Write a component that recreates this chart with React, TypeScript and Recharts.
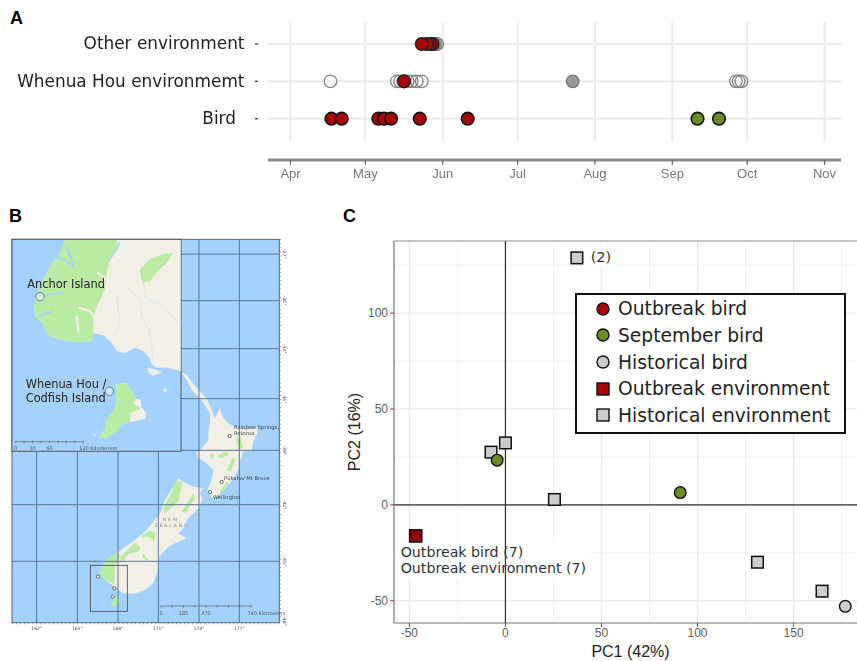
import React from 'react';
import {
  ScatterChart, Scatter, XAxis, YAxis, CartesianGrid, ReferenceLine, Legend, Label,
} from 'recharts';

// panel A: days since 1 April
const monthLabels = ['Apr', 'May', 'Jun', 'Jul', 'Aug', 'Sep', 'Oct', 'Nov'];
const monthDays = [0, 30, 61, 91, 122, 153, 183, 214];
const rowLabels = ['Bird', 'Whenua Hou environmemt', 'Other environment'];
const birdOutbreakDays = [16.4, 20.5, 35.2, 37.5, 40.3, 51.8, 71];
const birdSeptemberDays = [163.1, 171.7];
const whenuaOpenDays = [16, 42.6, 43.9, 45.2, 47, 48.6, 50.6, 52.6, 178.5, 179.6, 180.7];
const whenuaGreyDays = [113.1];
const whenuaOutbreakDays = [45.5];
const otherOpenDays = [57.6, 58.2, 58.8];
const otherOutbreakDays = [57, 55.9, 54.6, 52.6];

// panel C: PCA scores
const outbreakEnvX = [-46.7];
const outbreakEnvY = [-16.2];
const historicalEnvX = [37.2, -7.5, 0, 25.5, 131.2, 164.8];
const historicalEnvY = [128.8, 27.5, 32.3, 2.8, -29.9, -45];
const historicalBirdX = [176.9];
const historicalBirdY = [-52.9];
const septemberBirdX = [-4.3, 91];
const septemberBirdY = [23.3, 6.4];
const outbreakBirdX = [-46.7];
const outbreakBirdY = [-16.2];
const legendOrder = ['Outbreak bird', 'September bird', 'Historical bird', 'Outbreak environment', 'Historical environment'];
const pcXTicks = [-50, 0, 50, 100, 150];
const pcYTicks = [-50, 0, 50, 100];
const pcXMinor = [-25, 25, 75, 125, 175];
const pcYMinor = [-25, 25, 75, 125];

// panel B: the frame is in page pixels
const meridians = [36.7, 77.3, 118, 158.3, 199, 239.3];
const meridianLabels = ['162°', '165°', '168°', '171°', '174°', '177°'];
const parallels = [254, 300.7, 348.7, 398.7, 450.3, 504.7, 561.3];
const parallelLabels = ['-27°', '-30°', '-33°', '-36°', '-39°', '-42°', '-45°'];
const mapSitesX = [229.7, 221.7, 210, 98, 114.3, 112.7];
const mapSitesY = [436, 482, 492, 576.7, 588.3, 596.7];
const insetSitesX = [40, 109.3];
const insetSitesY = [296.7, 391.3];

const RED = '#a80505';
const GREEN = '#6b8e23';
const GREY = '#cccccc';
const SANS = '"Liberation Sans", Arial, sans-serif';
const DEJAVU = '"DejaVu Sans", Verdana, sans-serif';
const LAND = '#f2efe6';
const MAP_GREEN = '#b9eba3';
const SEA = '#a5d2fd';

const toRows = (days: number[], row: number) => days.map((day) => ({ day, row }));
const toPoints = (xs: number[], ys: number[]) => xs.map((x, i) => ({ x, y: ys[i] }));

const dot = (fill: string, stroke: string, r: number, sw: number) => (p: any) => (
  <circle cx={p.cx} cy={p.cy} r={r} fill={fill} stroke={stroke} strokeWidth={sw} />
);
const square = (fill: string, stroke: string, s: number, sw: number) => (p: any) => (
  <rect x={p.cx - s / 2} y={p.cy - s / 2} width={s} height={s} fill={fill} stroke={stroke} strokeWidth={sw} />
);

const RowTick = (p: any) => {
  const label = rowLabels[p.payload.value - 1];
  return (
    <g>
      <line x1={255} x2={258} y1={p.y} y2={p.y} stroke="#555" strokeWidth={1.5} />
      <text x={label === 'Bird' ? 236 : 244.5} y={p.y + 5.5} textAnchor="end" fontSize={16.9} fontFamily={DEJAVU} fill="#222">
        {label}
      </text>
    </g>
  );
};

const PanelA = () => (
  <div style={{ position: 'absolute', left: 0, top: 0, filter: 'blur(0.5px)' }}>
    <ScatterChart width={857} height={190} margin={{ left: 0, right: 16, top: 22, bottom: 0 }}>
      <CartesianGrid vertical={false} horizontalValues={[1, 2, 3]} stroke="#ebebeb" strokeWidth={2} />
      {monthDays.map((m) => (
        <ReferenceLine key={m} segment={[{ x: m, y: 0.376 }, { x: m, y: 3.589 }]} stroke="#ebebeb" strokeWidth={2} />
      ))}
      <XAxis
        type="number"
        dataKey="day"
        domain={[-9.02, 220.6]}
        allowDataOverflow
        ticks={monthDays}
        interval={0}
        tickFormatter={(v: number) => monthLabels[monthDays.indexOf(v)]}
        height={30}
        axisLine={{ stroke: '#8a8a8a', strokeWidth: 3 }}
        tickLine={{ stroke: '#666', strokeWidth: 1.2 }}
        tickSize={5}
        tickMargin={4}
        tick={{ fontSize: 13, fontFamily: SANS, fill: '#777' }}
      />
      <YAxis
        type="number"
        dataKey="row"
        domain={[-0.106, 3.589]}
        allowDataOverflow
        ticks={[1, 2, 3]}
        interval={0}
        width={268}
        axisLine={false}
        tickLine={false}
        tick={RowTick}
      />
      <Scatter data={toRows(whenuaOpenDays, 2)} shape={dot('none', '#858585', 6.3, 1.3)} isAnimationActive={false} />
      <Scatter data={toRows(whenuaGreyDays, 2)} shape={dot('#999', '#777', 6.3, 1.3)} isAnimationActive={false} />
      <Scatter data={toRows(whenuaOutbreakDays, 2)} shape={dot(RED, '#222', 6.3, 1.5)} isAnimationActive={false} />
      <Scatter data={toRows(otherOpenDays, 3)} shape={dot('none', '#858585', 6.3, 1.3)} isAnimationActive={false} />
      <Scatter data={toRows(otherOutbreakDays, 3)} shape={dot(RED, '#222', 6.3, 1.5)} isAnimationActive={false} />
      <Scatter data={toRows(birdOutbreakDays, 1)} shape={dot(RED, '#111', 6.3, 1.6)} isAnimationActive={false} />
      <Scatter data={toRows(birdSeptemberDays, 1)} shape={dot(GREEN, '#111', 6.3, 1.6)} isAnimationActive={false} />
    </ScatterChart>
  </div>
);

const LegendBox = (props: any) => (
  <div
    style={{
      boxSizing: 'border-box', width: 271, height: 141, border: '2px solid #111', background: '#fff',
      fontFamily: DEJAVU, fontSize: 18.7, color: '#222', paddingTop: 0,
    }}
  >
    {(props.payload || []).map((entry: any) => {
      const isSquare = entry.value.includes('environment');
      const fill = entry.value.startsWith('Outbreak') ? RED : entry.value.startsWith('September') ? GREEN : GREY;
      return (
        <div key={entry.value} style={{ height: 26.7, display: 'flex', alignItems: 'center' }}>
          <svg width={41} height={20} style={{ flex: 'none' }}>
            {isSquare
              ? <rect x={20} y={4} width={12} height={12} fill={fill} stroke="#111" strokeWidth={1.4} />
              : <circle cx={26} cy={10} r={6} fill={fill} stroke="#111" strokeWidth={1.4} />}
          </svg>
          <span style={{ whiteSpace: 'nowrap' }}>{entry.value}</span>
        </div>
      );
    })}
  </div>
);

const PanelC = () => (
  <div style={{ position: 'absolute', left: 340, top: 225 }}>
    <ScatterChart width={517} height={436} margin={{ left: 0, right: 0, top: 16, bottom: 0 }}>
      <CartesianGrid verticalValues={pcXMinor} horizontalValues={pcYMinor} stroke="#f1f1f1" strokeWidth={1} />
      <CartesianGrid verticalValues={pcXTicks} horizontalValues={pcYTicks} stroke="#ebebeb" strokeWidth={1.4} />
      <ReferenceLine x={0} stroke="#333" strokeWidth={1.2} />
      <ReferenceLine y={0} stroke="#333" strokeWidth={1.2} />
      <ReferenceLine y={137.6} stroke="#8a8a8a" strokeWidth={1.2} />
      <XAxis
        type="number"
        dataKey="x"
        domain={[-58, 183]}
        allowDataOverflow
        ticks={pcXTicks}
        interval={0}
        height={38}
        axisLine={{ stroke: '#777', strokeWidth: 1.2 }}
        tickLine={{ stroke: '#555' }}
        tickSize={4}
        tickMargin={1}
        tick={{ fontSize: 12, fontFamily: SANS, fill: '#5c5c5c' }}
      >
        <Label value="PC1 (42%)" position="insideBottom" offset={4} dx={5} fontSize={16} fontFamily={SANS} fill="#222" />
      </XAxis>
      <YAxis
        type="number"
        dataKey="y"
        domain={[-61.6, 137.6]}
        allowDataOverflow
        ticks={pcYTicks}
        interval={0}
        width={54}
        axisLine={{ stroke: '#777', strokeWidth: 1.2 }}
        tickLine={{ stroke: '#555' }}
        tickSize={4}
        tickMargin={2}
        tick={{ fontSize: 12, fontFamily: SANS, fill: '#5c5c5c' }}
      >
        <Label value="PC2 (16%)" angle={-90} position="insideLeft" offset={14} fontSize={16} fontFamily={SANS} fill="#222" style={{ textAnchor: 'middle' }} />
      </YAxis>
      <rect x={57} y={316.7} width={193} height={38.5} fill="#fff" />
      <rect x={248} y={22} width={26} height={20} fill="#fff" />
      <text x={250.7} y={36.5} fontSize={14.5} fontFamily={DEJAVU} fill="#333">(2)</text>
      <text x={60.7} y={332} fontSize={14.2} fontFamily={DEJAVU} fill="#333">Outbreak bird (7)</text>
      <text x={60.7} y={348} fontSize={14.2} fontFamily={DEJAVU} fill="#333">Outbreak environment (7)</text>
      <Scatter name="Outbreak environment" data={toPoints(outbreakEnvX, outbreakEnvY)} fill={RED} shape={square(RED, '#111', 12.2, 1.5)} isAnimationActive={false} />
      <Scatter name="Historical environment" data={toPoints(historicalEnvX, historicalEnvY)} fill={GREY} shape={square(GREY, '#111', 11.6, 1.5)} isAnimationActive={false} />
      <Scatter name="Historical bird" data={toPoints(historicalBirdX, historicalBirdY)} fill={GREY} shape={dot(GREY, '#111', 5.8, 1.4)} isAnimationActive={false} />
      <Scatter name="September bird" data={toPoints(septemberBirdX, septemberBirdY)} fill={GREEN} shape={dot(GREEN, '#111', 5.8, 1.4)} isAnimationActive={false} />
      <Scatter name="Outbreak bird" data={toPoints(outbreakBirdX, outbreakBirdY)} fill={RED} shape={dot(RED, '#111', 4.2, 1)} isAnimationActive={false} />
      <Legend
        layout="vertical"
        align="center"
        verticalAlign="middle"
        content={LegendBox}
        itemSorter={(e: any) => legendOrder.indexOf(e.value)}
        wrapperStyle={{ left: 235, top: 68.3, width: 271, height: 141 }}
      />
    </ScatterChart>
  </div>
);

// coastlines traced by hand, in crop units (3 units = 1 page px)
const northIsland = '35,8 48,12 65,35 85,60 110,85 125,120 135,145 150,115 160,145 175,160 195,170 225,180 262,170 262,190 250,215 245,240 220,245 210,270 205,300 180,340 150,370 128,385 112,360 125,330 130,300 110,280 85,265 78,250 95,235 115,210 115,185 120,160 120,130 95,90 70,65 50,30';
const southIsland = '280,25 295,35 325,50 355,55 345,70 352,85 345,110 325,130 305,150 300,170 280,190 305,205 280,215 250,230 222,260 220,300 205,340 180,360 145,372 115,370 100,360 82,345 60,330 42,310 65,270 100,245 150,210 185,180 225,130 240,90 265,50';
const southGreens = [
  '42,310 65,270 100,245 104,262 90,290 87,342 60,330',
  '170,195 195,183 212,190 208,215 192,200 172,204',
  '105,262 150,218 166,232 160,245 130,252 112,275',
  '170,255 176,252 190,270 182,272',
  '270,32 292,35 282,90 262,110 240,130 236,112 262,62',
  '290,125 325,70 330,85 302,128',
];
const northGreens = [
  '200,205 212,200 220,235 205,238',
  '120,255 130,250 132,265 122,268',
  '143,255 172,243 175,255 150,265',
  '170,300 188,262 196,266 182,305',
  '150,362 172,335 178,340 158,368',
];
const stewartMini = '85,385 95,375 103,385 107,400 90,408 75,411 84,396';
const insetLand = '165,12 512,12 512,405 475,395 440,395 425,385 418,365 400,345 375,335 345,352 320,345 305,320 280,298 250,292 245,315 195,318 150,310 118,300 105,280 100,262 78,245 72,215 80,180 95,140 125,85 150,50';
const insetFiord = '165,12 320,12 325,35 300,70 290,110 285,160 265,200 250,240 250,292 245,315 195,318 150,310 118,300 105,280 100,262 78,245 72,215 80,180 95,140 125,85 150,50';
const insetForest = '390,100 420,70 460,55 490,50 470,80 440,110 420,135 400,140 392,125';
const stewartLand = '320,445 345,442 365,465 380,490 392,490 395,515 408,530 405,548 380,555 360,558 335,565 320,585 290,605 265,605 285,580 290,550 310,525 320,500 318,465';
const stewartForest = '320,445 345,442 365,465 380,490 368,500 392,518 362,530 360,558 335,565 320,585 290,605 265,605 285,580 290,550 310,525 320,500 318,465';
const fiordLines = [
  '80,180 130,175 162,168',
  '90,240 130,225',
  '170,30 180,60 192,88',
  '125,60 165,72 192,92',
  '330,18 318,40 300,70',
];
const inlandStrips = ['205,215 240,225 256,250', '200,240 206,290', '262,110 285,125 275,150'];
const rivers = ['355,155 390,190 395,240 420,290 430,370', '320,180 330,260 310,300', '400,140 410,190 460,210 505,260'];

const ScaleBar = ({ x, y, len, n, labels }: any) => (
  <g stroke="#555" strokeWidth={0.6}>
    <line x1={x} x2={x + len} y1={y} y2={y} />
    {Array.from({ length: n + 1 }, (_, i) => (
      <line key={i} x1={x + (len * i) / n} x2={x + (len * i) / n} y1={y - 1} y2={y + 1.6} />
    ))}
    {labels.map((l: any) => (
      <text key={l.t} x={x + (len * l.at)} y={y + 8.5} fontSize={5} fontFamily={DEJAVU} fill="#555" stroke="none" textAnchor={l.anchor || 'middle'}>{l.t}</text>
    ))}
  </g>
);

const mapText = { fontFamily: DEJAVU, fill: '#444' };

const PanelB = () => (
  <div style={{ position: 'absolute', left: 0, top: 0, filter: 'blur(0.45px)' }}>
    <ScatterChart width={300} height={661} margin={{ left: 12, right: 20.7, top: 239.3, bottom: 38.3 }}>
      <rect x={12} y={239.3} width={267.3} height={383.4} fill={SEA} />
      <g transform="translate(170 370) scale(0.3333)">
        <polygon points={northIsland} fill={LAND} />
        {northGreens.map((g) => <polygon key={g} points={g} fill={MAP_GREEN} />)}
      </g>
      <g transform="translate(85 470) scale(0.3333)">
        <polygon points={southIsland} fill={LAND} />
        {southGreens.map((g) => <polygon key={g} points={g} fill={MAP_GREEN} />)}
        <polygon points={stewartMini} fill={MAP_GREEN} />
      </g>
      {meridians.map((m) => <line key={m} x1={m} x2={m} y1={239.3} y2={622.7} stroke="#4d6a86" strokeWidth={0.9} />)}
      {parallels.map((p) => <line key={p} x1={12} x2={279.3} y1={p} y2={p} stroke="#4d6a86" strokeWidth={0.9} />)}
      <rect x={90.3} y={565.3} width={37} height={46} fill="none" stroke="#444" strokeWidth={0.8} />
      <XAxis type="number" dataKey="x" domain={[12, 279.3]} hide allowDataOverflow />
      <YAxis type="number" dataKey="y" domain={[239.3, 622.7]} reversed hide allowDataOverflow />
      <rect x={12} y={239.3} width={267.3} height={383.4} fill="none" stroke="#555" strokeWidth={0.9} />
      <line x1={12} x2={279.3} y1={623.8} y2={623.8} stroke="#666" strokeWidth={1} strokeDasharray="0.7 3.4" />
      <line x1={280.4} x2={280.4} y1={239.3} y2={622.7} stroke="#666" strokeWidth={1} strokeDasharray="0.7 3.4" />
      {meridians.map((m, i) => (
        <text key={m} x={m} y={629.5} fontSize={4.5} textAnchor="middle" {...mapText}>{meridianLabels[i]}</text>
      ))}
      {parallels.map((p, i) => (
        <text key={p} x={283} y={p} fontSize={4.5} textAnchor="middle" transform={`rotate(90 283 ${p})`} {...mapText}>{parallelLabels[i]}</text>
      ))}
      <text x={283} y={621} fontSize={4.5} textAnchor="middle" transform="rotate(90 283 621)" {...mapText}>-48°</text>
      <text x={234} y={428.5} fontSize={5.2} {...mapText}>Rainbow Springs,</text>
      <text x={234} y={435} fontSize={5.2} {...mapText}>Rotorua</text>
      <text x={224} y={480} fontSize={5.2} {...mapText}>Pūkaha/ Mt Bruce</text>
      <text x={213} y={498.8} fontSize={5.2} {...mapText}>Wellington</text>
      <text x={171} y={521} fontSize={4.6} textAnchor="middle" fontFamily={DEJAVU} fill="#888" letterSpacing={1.8}>NEW</text>
      <text x={172} y={527} fontSize={4.6} textAnchor="middle" fontFamily={DEJAVU} fill="#888" letterSpacing={1.8}>ZEALAND</text>
      <ScaleBar
        x={161} y={606} len={90} n={8}
        labels={[{ t: '0', at: 0 }, { t: '185', at: 0.25 }, { t: '370', at: 0.5 }, { t: '740 Kilometers', at: 0.96, anchor: 'start' }]}
      />
      <Scatter data={toPoints(mapSitesX, mapSitesY)} shape={dot('#f5f5f5', '#444', 1.7, 0.7)} isAnimationActive={false} />

      <rect x={12} y={239.3} width={169} height={212} fill={SEA} stroke="#555" strokeWidth={1} />
      <g transform="translate(10 236) scale(0.3333)">
        <polygon points={insetLand} fill={LAND} />
        <polygon points={insetFiord} fill={MAP_GREEN} />
        <polygon points={insetForest} fill={MAP_GREEN} />
        {inlandStrips.map((l) => <polyline key={l} points={l} fill="none" stroke={LAND} strokeWidth={7} />)}
        {fiordLines.map((l) => <polyline key={l} points={l} fill="none" stroke={SEA} strokeWidth={5} />)}
        {rivers.map((l) => <polyline key={l} points={l} fill="none" stroke="#cfe0ee" strokeWidth={2} />)}
        <polygon points={stewartLand} fill={LAND} />
        <polygon points={stewartForest} fill={MAP_GREEN} />
        <ellipse cx={465} cy={463} rx={5} ry={6} fill={LAND} />
        <ellipse cx={255} cy={596} rx={5} ry={3} fill={LAND} />
        <polygon points="412,395 440,402 455,410 430,420 418,412" fill={LAND} />
      </g>
      <Scatter data={toPoints(insetSitesX, insetSitesY)} shape={dot('rgba(255,255,255,0.5)', '#5b7ea6', 4.2, 1)} isAnimationActive={false} />
      <text x={27.3} y={288} fontSize={11.4} fontFamily={DEJAVU} fill="#222">Anchor Island</text>
      <text x={25.7} y={388} fontSize={11.4} fontFamily={DEJAVU} fill="#222">Whenua Hou /</text>
      <text x={25.7} y={402} fontSize={11.4} fontFamily={DEJAVU} fill="#222">Codfish Island</text>
      <ScaleBar
        x={15.7} y={441.7} len={67.6} n={8}
        labels={[{ t: '0', at: 0 }, { t: '30', at: 0.25 }, { t: '60', at: 0.5 }, { t: '120 Kilometers', at: 0.94, anchor: 'start' }]}
      />
    </ScatterChart>
  </div>
);

const panelLetter = (left: number, top: number, text: string) => (
  <div style={{ position: 'absolute', left, top, fontFamily: SANS, fontWeight: 700, fontSize: 18, lineHeight: '18px', color: '#000' }}>{text}</div>
);

export default function App() {
  return (
    <div style={{ position: 'absolute', left: 0, top: 0, width: 857, height: 661, overflow: 'hidden', background: '#fff' }}>
      <PanelA />
      <PanelB />
      <PanelC />
      {panelLetter(10, 9, 'A')}
      {panelLetter(9, 207, 'B')}
      {panelLetter(343, 207, 'C')}
    </div>
  );
}
